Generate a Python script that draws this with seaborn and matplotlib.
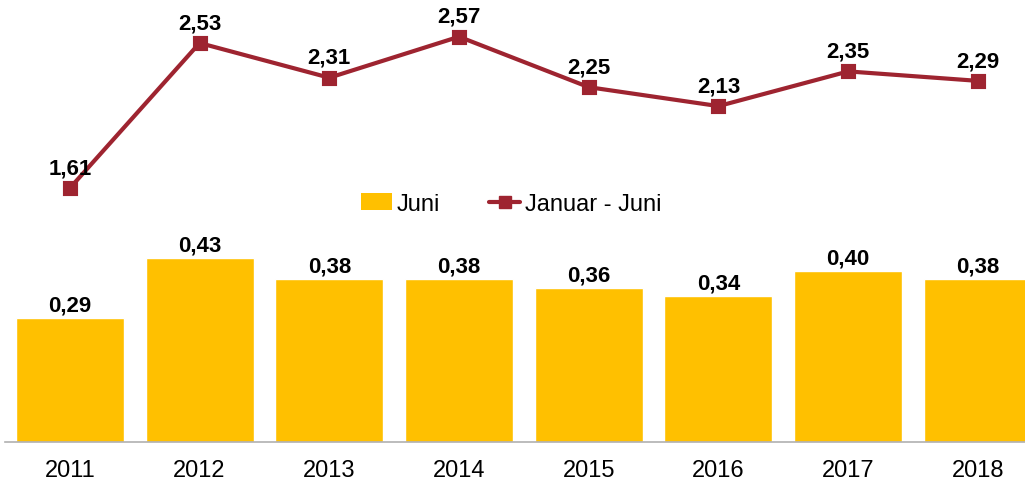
import numpy as np
import pandas as pd
import matplotlib
matplotlib.use("Agg")
import matplotlib.pyplot as plt
import seaborn as sns
from matplotlib.patches import Patch
from matplotlib.lines import Line2D

# --- DATI ---
years = ["2011", "2012", "2013", "2014", "2015", "2016", "2017", "2018"]
juni = [0.29, 0.43, 0.38, 0.38, 0.36, 0.34, 0.40, 0.38]
januar_juni = [1.61, 2.53, 2.31, 2.57, 2.25, 2.13, 2.35, 2.29]

BAR_COLOR = "#FFC000"
LINE_COLOR = "#9E2430"

sns.set_style("white")
plt.rcParams['font.family'] = ['Liberation Sans', 'DejaVu Sans']
plt.rcParams['text.color'] = 'black'
plt.rcParams['xtick.color'] = 'black'

df = pd.DataFrame({"Jahr": years, "Juni": juni, "JanJuni": januar_juni})

fig = plt.figure(figsize=(10.25, 4.85), dpi=100)
ax = fig.add_axes([5 / 1025, 42 / 485, 1 - 5 / 1025, 443 / 485])

sns.barplot(data=df, x="Jahr", y="Juni", color=BAR_COLOR, saturation=1,
            width=0.833, ax=ax)
ax.set_ylim(0, 443 / 428)

for i, v in enumerate(juni):
    ax.annotate(f"{v:.2f}".replace(".", ","), (i, v), xytext=(0, 2),
                textcoords="offset points", ha="center", va="bottom",
                fontsize=16, fontweight="bold")

ax2 = ax.twinx()
sns.pointplot(data=df, x="Jahr", y="JanJuni", color=LINE_COLOR, markers="s",
              markersize=9, linewidth=3, ax=ax2)
ax2.set_ylim(0, 443 / 157.7)

for i, v in enumerate(januar_juni):
    ax2.annotate(f"{v:.2f}".replace(".", ","), (i, v), xytext=(0, 7),
                 textcoords="offset points", ha="center", va="bottom",
                 fontsize=16, fontweight="bold")

for a in (ax, ax2):
    a.set_xlim(-0.5, 7.363)
    a.set_xlabel("")
    a.set_ylabel("")
    a.set_yticks([])
    for s in ("top", "left", "right"):
        a.spines[s].set_visible(False)
ax2.spines["bottom"].set_visible(False)
ax.spines["bottom"].set_color("#B0B0B0")
ax.spines["bottom"].set_linewidth(1.2)
ax.tick_params(axis="x", length=0, labelsize=17, pad=12)

handles = [Patch(facecolor=BAR_COLOR, edgecolor="none", label="Juni"),
           Line2D([0], [0], color=LINE_COLOR, lw=3, marker="s", markersize=8,
                  label="Januar - Juni")]
fig.legend(handles=handles, loc="center", bbox_to_anchor=(511 / 1025, 1 - 205 / 485),
           ncol=2, frameon=False, fontsize=17, handlelength=1.3,
           handletextpad=0.2, columnspacing=2.1)

plt.savefig("out.png", dpi=100)
plt.close()
